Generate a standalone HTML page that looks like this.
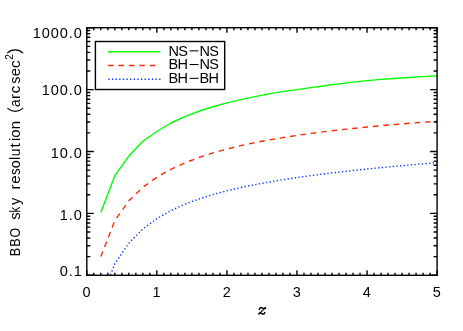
<!DOCTYPE html>
<html><head><meta charset="utf-8"><title>BBO sky resolution</title>
<style>html,body{margin:0;padding:0;background:#fff;overflow:hidden}body{width:463px;height:331px;position:relative;font-family:"Liberation Sans",sans-serif}</style>
</head><body>
<svg width="463" height="331" viewBox="0 0 463 331" style="position:absolute;left:0;top:0;display:block">
<rect x="0" y="0" width="463" height="331" fill="#fff"/>
<defs><clipPath id="c"><rect x="86.8" y="27.7" width="350.3" height="247.6"/></clipPath></defs>
<g clip-path="url(#c)" fill="none" stroke-width="1.4">
<path d="M100.81 212.4 L114.82 175.7 L128.84 156.1 L142.85 141.3 L156.86 131.5 L170.87 123 L184.88 116.55 L198.9 111.23 L212.91 106.76 L226.92 102.93 L240.93 99.57 L254.94 96.58 L268.96 93.93 L282.97 91.63 L296.98 89.61 L310.99 87.68 L325 85.73 L339.02 83.85 L353.03 82.14 L367.04 80.65 L381.05 79.42 L395.06 78.43 L409.08 77.53 L423.09 76.65 L437.1 75.69" stroke="#00ff00" stroke-linejoin="round"/>
<path d="M100.81 256.6 L114.82 220.6 L128.84 200.66 L142.85 187.32 L156.86 177.22 L170.87 169.28 L184.88 162.84 L198.9 157.48 L212.91 152.94 L226.92 149.04 L240.93 145.63 L254.94 142.63 L268.96 139.96 L282.97 137.57 L296.98 135.4 L310.99 133.43 L325 131.63 L339.02 129.98 L353.03 128.45 L367.04 127.03 L381.05 125.71 L395.06 124.48 L409.08 123.32 L423.09 122.24 L437.1 121.21" stroke="#ff2800" stroke-dasharray="5.5 4.93" stroke-linejoin="round"/>
<path d="M100.81 299.8 L114.82 263.9 L128.84 243.13 L142.85 228.96 L156.86 218.62 L170.87 210.65 L184.88 204.27 L198.9 199.03 L212.91 194.62 L226.92 190.84 L240.93 187.54 L254.94 184.63 L268.96 182.04 L282.97 179.69 L296.98 177.56 L310.99 175.6 L325 173.79 L339.02 172.1 L353.03 170.53 L367.04 169.04 L381.05 167.64 L395.06 166.31 L409.08 165.05 L423.09 163.84 L437.1 162.68" stroke="#0033ff" stroke-dasharray="1.3 2.35" stroke-dashoffset="-1.2"/>
</g>
<path d="M86.8 275.3v-4.95M86.8 27.7v4.95M93.81 275.3v-2.5M93.81 27.7v2.5M100.81 275.3v-2.5M100.81 27.7v2.5M107.82 275.3v-2.5M107.82 27.7v2.5M114.82 275.3v-2.5M114.82 27.7v2.5M121.83 275.3v-2.5M121.83 27.7v2.5M128.84 275.3v-2.5M128.84 27.7v2.5M135.84 275.3v-2.5M135.84 27.7v2.5M142.85 275.3v-2.5M142.85 27.7v2.5M149.85 275.3v-2.5M149.85 27.7v2.5M156.86 275.3v-4.95M156.86 27.7v4.95M163.87 275.3v-2.5M163.87 27.7v2.5M170.87 275.3v-2.5M170.87 27.7v2.5M177.88 275.3v-2.5M177.88 27.7v2.5M184.88 275.3v-2.5M184.88 27.7v2.5M191.89 275.3v-2.5M191.89 27.7v2.5M198.9 275.3v-2.5M198.9 27.7v2.5M205.9 275.3v-2.5M205.9 27.7v2.5M212.91 275.3v-2.5M212.91 27.7v2.5M219.91 275.3v-2.5M219.91 27.7v2.5M226.92 275.3v-4.95M226.92 27.7v4.95M233.93 275.3v-2.5M233.93 27.7v2.5M240.93 275.3v-2.5M240.93 27.7v2.5M247.94 275.3v-2.5M247.94 27.7v2.5M254.94 275.3v-2.5M254.94 27.7v2.5M261.95 275.3v-2.5M261.95 27.7v2.5M268.96 275.3v-2.5M268.96 27.7v2.5M275.96 275.3v-2.5M275.96 27.7v2.5M282.97 275.3v-2.5M282.97 27.7v2.5M289.97 275.3v-2.5M289.97 27.7v2.5M296.98 275.3v-4.95M296.98 27.7v4.95M303.99 275.3v-2.5M303.99 27.7v2.5M310.99 275.3v-2.5M310.99 27.7v2.5M318 275.3v-2.5M318 27.7v2.5M325 275.3v-2.5M325 27.7v2.5M332.01 275.3v-2.5M332.01 27.7v2.5M339.02 275.3v-2.5M339.02 27.7v2.5M346.02 275.3v-2.5M346.02 27.7v2.5M353.03 275.3v-2.5M353.03 27.7v2.5M360.03 275.3v-2.5M360.03 27.7v2.5M367.04 275.3v-4.95M367.04 27.7v4.95M374.05 275.3v-2.5M374.05 27.7v2.5M381.05 275.3v-2.5M381.05 27.7v2.5M388.06 275.3v-2.5M388.06 27.7v2.5M395.06 275.3v-2.5M395.06 27.7v2.5M402.07 275.3v-2.5M402.07 27.7v2.5M409.08 275.3v-2.5M409.08 27.7v2.5M416.08 275.3v-2.5M416.08 27.7v2.5M423.09 275.3v-2.5M423.09 27.7v2.5M430.09 275.3v-2.5M430.09 27.7v2.5M437.1 275.3v-4.95M437.1 27.7v4.95M86.8 275.3h7M437.1 275.3h-7M86.8 256.67h3.5M437.1 256.67h-3.5M86.8 245.77h3.5M437.1 245.77h-3.5M86.8 238.03h3.5M437.1 238.03h-3.5M86.8 232.03h3.5M437.1 232.03h-3.5M86.8 227.13h3.5M437.1 227.13h-3.5M86.8 222.99h3.5M437.1 222.99h-3.5M86.8 219.4h3.5M437.1 219.4h-3.5M86.8 216.23h3.5M437.1 216.23h-3.5M86.8 213.4h7M437.1 213.4h-7M86.8 194.77h3.5M437.1 194.77h-3.5M86.8 183.87h3.5M437.1 183.87h-3.5M86.8 176.13h3.5M437.1 176.13h-3.5M86.8 170.13h3.5M437.1 170.13h-3.5M86.8 165.23h3.5M437.1 165.23h-3.5M86.8 161.09h3.5M437.1 161.09h-3.5M86.8 157.5h3.5M437.1 157.5h-3.5M86.8 154.33h3.5M437.1 154.33h-3.5M86.8 151.5h7M437.1 151.5h-7M86.8 132.87h3.5M437.1 132.87h-3.5M86.8 121.97h3.5M437.1 121.97h-3.5M86.8 114.23h3.5M437.1 114.23h-3.5M86.8 108.23h3.5M437.1 108.23h-3.5M86.8 103.33h3.5M437.1 103.33h-3.5M86.8 99.19h3.5M437.1 99.19h-3.5M86.8 95.6h3.5M437.1 95.6h-3.5M86.8 92.43h3.5M437.1 92.43h-3.5M86.8 89.6h7M437.1 89.6h-7M86.8 70.97h3.5M437.1 70.97h-3.5M86.8 60.07h3.5M437.1 60.07h-3.5M86.8 52.33h3.5M437.1 52.33h-3.5M86.8 46.33h3.5M437.1 46.33h-3.5M86.8 41.43h3.5M437.1 41.43h-3.5M86.8 37.29h3.5M437.1 37.29h-3.5M86.8 33.7h3.5M437.1 33.7h-3.5M86.8 30.53h3.5M437.1 30.53h-3.5M86.8 27.7h7M437.1 27.7h-7" stroke="#000" stroke-width="1.4" fill="none"/>
<rect x="86.8" y="27.7" width="350.3" height="247.6" fill="none" stroke="#000" stroke-width="1.4"/>
<rect x="95.4" y="41.5" width="129.3" height="48" fill="none" stroke="#000" stroke-width="1.4"/>
<g fill="none" stroke-width="1.4">
<path d="M107.9 51.8H160.4" stroke="#00ff00"/>
<path d="M108.05 65.45H159.8" stroke="#ff2800" stroke-dasharray="5.5 4.93"/>
<path d="M107.9 79.2H161" stroke="#0033ff" stroke-dasharray="1.3 2.33" stroke-dashoffset="-0.4"/>
</g>
<g style="font-family:'Liberation Sans',sans-serif;font-size:14.5px;fill:#000;filter:grayscale(1)">
<text x="168.5" y="55.6" letter-spacing="-0.6">NS</text>
<text x="199.4" y="55.6" letter-spacing="-0.6">NS</text>
<path d="M189.6 50.85H198.5" stroke="#000" stroke-width="1.05" fill="none"/>
<text x="168.5" y="69.3" letter-spacing="-0.6">BH</text>
<text x="199.4" y="69.3" letter-spacing="-0.6">NS</text>
<path d="M189.6 64.55H198.5" stroke="#000" stroke-width="1.05" fill="none"/>
<text x="168.5" y="83.1" letter-spacing="-0.6">BH</text>
<text x="199.4" y="83.1" letter-spacing="-0.6">BH</text>
<path d="M189.6 78.35H198.5" stroke="#000" stroke-width="1.05" fill="none"/>
<text x="82.85000000000001" y="37.65" text-anchor="end" letter-spacing="0.95">1000.0</text>
<text x="82.85000000000001" y="95.4" text-anchor="end" letter-spacing="0.95">100.0</text>
<text x="82.85000000000001" y="157.7" text-anchor="end" letter-spacing="0.95">10.0</text>
<text x="82.85000000000001" y="219.8" text-anchor="end" letter-spacing="0.95">1.0</text>
<text x="82.85000000000001" y="275.6" text-anchor="end" letter-spacing="0.95">0.1</text>
<text x="86.6" y="296.8" text-anchor="middle">0</text>
<text x="156.66" y="296.8" text-anchor="middle">1</text>
<text x="226.72" y="296.8" text-anchor="middle">2</text>
<text x="296.78" y="296.8" text-anchor="middle">3</text>
<text x="366.84" y="296.8" text-anchor="middle">4</text>
<text x="436.9" y="296.8" text-anchor="middle">5</text>
<text transform="translate(20.15 256.19) rotate(-90) scale(0.870 1)">B</text>
<text transform="translate(20.15 246.79) rotate(-90) scale(0.870 1)">B</text>
<text transform="translate(20.15 237.48) rotate(-90) scale(0.853 1)">O</text>
<text transform="translate(20.15 219.73) rotate(-90) scale(1.020 1)">s</text>
<text transform="translate(20.15 212.6) rotate(-90) scale(0.776 1)">k</text>
<text transform="translate(20.15 205) rotate(-90) scale(1.007 1)">y</text>
<text transform="translate(20.15 189.6) rotate(-90) scale(1.060 1)">r</text>
<text transform="translate(20.15 183.77) rotate(-90) scale(1.039 1)">e</text>
<text transform="translate(20.15 175.01) rotate(-90) scale(0.921 1)">s</text>
<text transform="translate(20.15 168.35) rotate(-90) scale(0.997 1)">o</text>
<text transform="translate(20.15 159.99) rotate(-90) scale(1.000 1)">l</text>
<text transform="translate(20.15 156.26) rotate(-90) scale(0.946 1)">u</text>
<text transform="translate(20.15 147.56) rotate(-90) scale(1.060 1)">t</text>
<text transform="translate(20.15 141.09) rotate(-90) scale(1.000 1)">i</text>
<text transform="translate(20.15 137.87) rotate(-90) scale(1.039 1)">o</text>
<text transform="translate(20.15 129.24) rotate(-90) scale(1.040 1)">n</text>
<text transform="translate(20.15 107.02) rotate(-90) scale(0.935 1)">a</text>
<text transform="translate(20.15 99) rotate(-90) scale(1.060 1)">r</text>
<text transform="translate(20.15 93.16) rotate(-90) scale(1.020 1)">c</text>
<text transform="translate(20.15 83.72) rotate(-90) scale(0.989 1)">s</text>
<text transform="translate(20.15 76.26) rotate(-90) scale(1.025 1)">e</text>
<text transform="translate(20.15 67.88) rotate(-90) scale(1.050 1)">c</text>
<text transform="translate(12.75 59.75) rotate(-90)" font-size="10.2">2</text>
<path d="M7.7 108.4A11.2 11.2 0 0 0 22.8 108.4M7.5 52.9A11.2 11.2 0 0 1 22.8 52.9" fill="none" stroke="#000" stroke-width="1.1" stroke-linecap="round"/>
</g>
<g fill="none" stroke="#000" stroke-linecap="round" stroke-linejoin="round">
<path d="M259.2 309.4 C259.7 307.8 260.6 307.2 261.8 307.9 C263.2 308.7 264.5 308.5 265.5 307.8" stroke-width="1.5"/>
<path d="M265.5 307.8 L258.9 313.8" stroke-width="1.1"/>
<path d="M258.9 313.8 C259.7 313 260.8 312.8 262 313.6 C263.3 314.5 264.3 314.1 264.8 312.5" stroke-width="1.5"/>
</g>
</svg>
</body></html>
